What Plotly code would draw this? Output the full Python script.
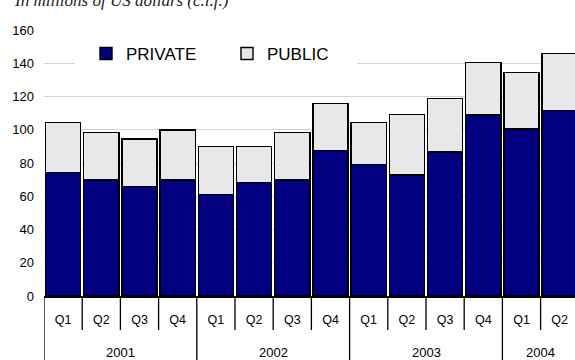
import plotly.graph_objects as go

# ---- data ----
years = ["2001", "2002", "2003", "2004"]
quarters_per_year = [4, 4, 4, 2]
quarters = ["Q1", "Q2", "Q3", "Q4", "Q1", "Q2", "Q3", "Q4",
            "Q1", "Q2", "Q3", "Q4", "Q1", "Q2"]
private = [74.2, 69.8, 65.7, 69.8, 61.2, 68.2, 69.8, 87.4,
           79.0, 72.8, 86.6, 108.9, 100.5, 111.5]
public = [30.3, 28.7, 28.7, 30.0, 28.6, 21.6, 28.4, 28.5,
          25.5, 36.3, 32.3, 31.7, 33.8, 34.5]

W, H = 575, 360
ML, MR, MT, MB = 44, 0, 30, 64
plot_h = H - MT - MB
plot_w = W - ML - MR
cat_px = 38.2
x_pos = list(range(len(quarters)))
x_max = -0.5 + plot_w / cat_px

fig = go.Figure()
fig.add_trace(go.Bar(
    x=x_pos, y=private, name="PRIVATE",
    marker=dict(color="#000080", line=dict(color="#000000", width=1.4)),
))
fig.add_trace(go.Bar(
    x=x_pos, y=public, name="PUBLIC",
    marker=dict(color="#E8E8E8", line=dict(color="#000000", width=1.4)),
))

# category table dividers below the axis
shapes = []
year_bounds = []
acc = 0
for n in quarters_per_year:
    year_bounds.append(acc - 0.5)
    acc += n
q_len = -34 / plot_h
y_len = -64 / plot_h
for i in range(len(quarters)):
    b = i - 0.5
    y1 = y_len if b in year_bounds else q_len
    shapes.append(dict(type="line", xref="x", yref="paper", x0=b, x1=b,
                       y0=0, y1=y1, line=dict(color="#000", width=1.3)))

annotations = []
acc = 0
for yr, n in zip(years, quarters_per_year):
    center = acc + (n - 1) / 2
    annotations.append(dict(x=center, y=(296 - 352) / plot_h, xref="x", yref="paper",
                            text=yr, showarrow=False, xanchor="center", yanchor="middle",
                            font=dict(family="Liberation Sans, Arial", size=13, color="#000")))
    acc += n

annotations.append(dict(x=(12 - ML) / plot_w, y=(MT + plot_h + 0) / plot_h,
                        xref="paper", yref="paper",
                        xanchor="left", yanchor="middle", showarrow=False,
                        text="<i>In millions of US dollars (c.i.f.)</i>",
                        font=dict(family="Liberation Serif, Times New Roman", size=17, color="#222")))

fig.update_layout(
    width=W, height=H,
    margin=dict(l=ML, r=MR, t=MT, b=MB, autoexpand=False),
    barmode="stack", bargap=0.08,
    plot_bgcolor="#ffffff", paper_bgcolor="#ffffff",
    font=dict(family="Liberation Sans, Arial", color="#000"),
    shapes=shapes, annotations=annotations,
    legend=dict(orientation="h", x=(75 - ML) / plot_w, xanchor="left",
                y=(296 - 54) / plot_h, yanchor="middle", traceorder="normal",
                bgcolor="#ffffff", font=dict(size=17, family="Liberation Sans, Arial"),
                entrywidth=85, indentation=11),
    xaxis=dict(range=[-0.5, x_max], tickvals=x_pos, ticktext=quarters, automargin=False,
               showgrid=False, zeroline=False, showline=True, linecolor="#000", linewidth=1.5,
               ticks="", ticklabelstandoff=11,
               tickfont=dict(size=12.5, family="Liberation Sans, Arial", color="#000")),
    yaxis=dict(range=[0, 160], dtick=20, showgrid=True, gridcolor="#d4d4d4", gridwidth=1,
               automargin=False,
               zeroline=False, showline=False, ticks="", ticklabelstandoff=9,
               tickfont=dict(size=13, family="Liberation Sans, Arial", color="#000")),
)

fig.write_html("out.html", config={"displayModeBar": False},
               post_script="document.body.style.margin='0px';")
